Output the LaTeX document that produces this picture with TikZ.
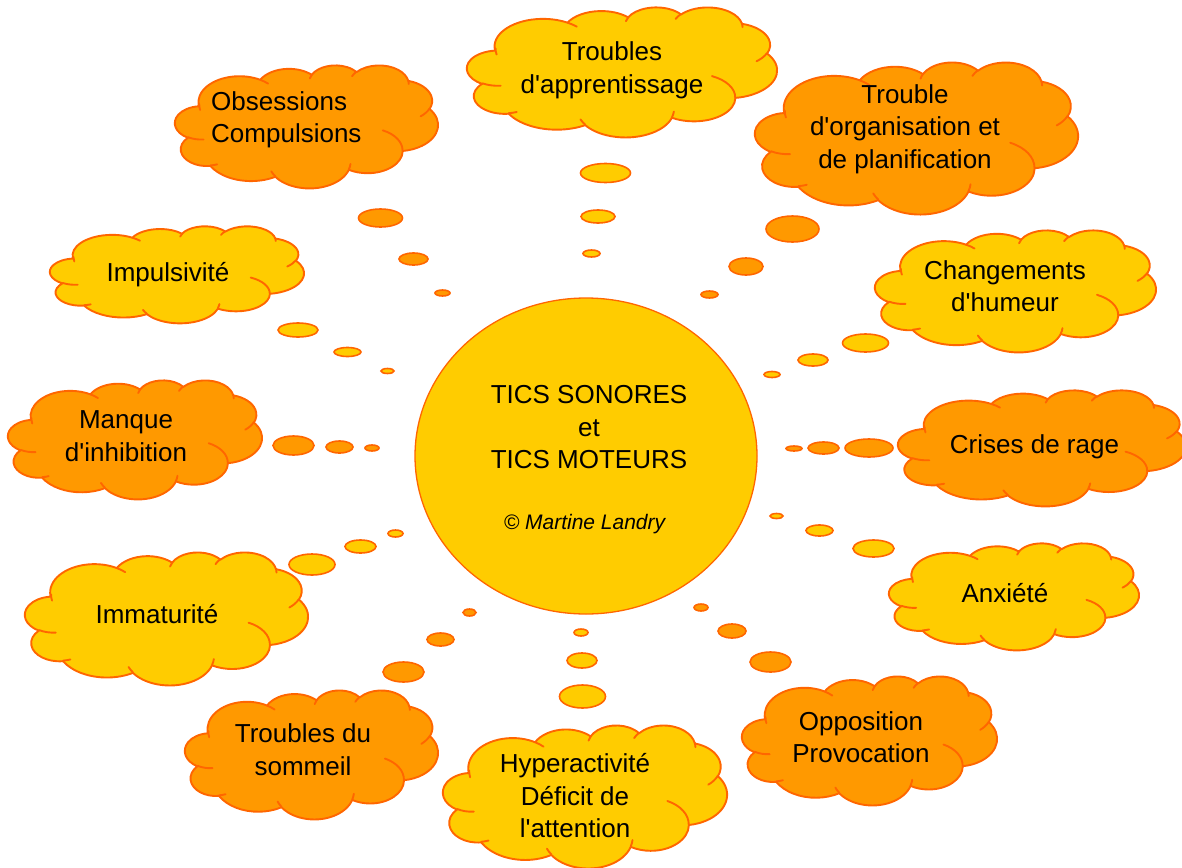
\documentclass[tikz,border=0pt]{standalone}
\usepackage{fontspec}
\newfontfamily\lsans{Liberation Sans}
\definecolor{yel}{HTML}{FFCC00}
\definecolor{org}{HTML}{FF9900}
\definecolor{edge}{HTML}{FF6600}
\def\cSX{1}\def\cSY{1}
\tikzset{
  oarc/.style n args={4}{x radius={#1*\cSX*1pt}, y radius={#2*\cSY*1pt},
     start angle={-atan2(sin(#3)*#1, cos(#3)*#2)},
     delta angle={-mod(atan2(sin(#3+#4)*#1, cos(#3+#4)*#2)-atan2(sin(#3)*#1, cos(#3)*#2)+720,360)}},
  thought/.pic={
    \path[fill=#1, draw=edge, line width=1.9pt, line join=round] ({-177*\cSX},{-72.3*\cSY})
      arc[oarc={67.53}{91.90}{-190.4875}{123.7805}]
      arc[oarc={53.33}{72.67}{-144.1024}{89.9452}]
      arc[oarc={43.65}{59.45}{-145.8079}{99.7230}]
      arc[oarc={48.57}{65.95}{-130.9861}{117.2417}]
      arc[oarc={53.33}{72.73}{-78.7089}{109.0269}]
      arc[oarc={67.75}{92.20}{-46.2673}{130.2690}]
      arc[oarc={57.85}{78.67}{0.6250}{114.0333}]
      arc[oarc={67.52}{92.15}{22.4516}{115.1726}]
      arc[oarc={77.20}{105.43}{66.2426}{75.7110}]
      arc[oarc={43.60}{59.18}{-274.9421}{146.7356}]
      arc[oarc={43.45}{59.45}{-246.8285}{152.5189}]
      -- cycle;
    \path[draw=edge, line width=1.9pt, line cap=round]
      ({-169.07*\cSX},{45.77*\cSY}) arc[oarc={43.45}{59.45}{86.742}{26.4295}]
      ({-146.72*\cSX},{132.99*\cSY}) arc[oarc={43.60}{59.18}{73.6105}{11.4475}]
      ({-51.22*\cSX},{174.90*\cSY}) arc[oarc={67.52}{92.15}{137.6242}{14.0811}]
      ({72.27*\cSX},{131.51*\cSY}) arc[oarc={67.52}{92.15}{6.4533}{15.9984}]
      ({125.29*\cSX},{13.54*\cSY}) arc[oarc={57.85}{78.67}{-70.2924}{70.9174}]
      ({201.98*\cSX},{-62.46*\cSY}) arc[oarc={53.33}{72.73}{30.3180}{27.7515}]
      ({167.24*\cSX},{-161.74*\cSY}) arc[oarc={48.57}{65.95}{-13.7443}{14.8589}]
      ({74.78*\cSX},{-176.48*\cSY}) arc[oarc={48.57}{65.95}{-149.1815}{18.1954}]
      ({5.41*\cSX},{-168.80*\cSY}) arc[oarc={43.65}{59.45}{-163.4943}{17.6864}]
      ({-76.00*\cSX},{-164.08*\cSY}) arc[oarc={67.53}{91.90}{-66.7070}{12.3194}]
      ({-174.73*\cSX},{-58.11*\cSY}) arc[oarc={67.53}{91.90}{163.7479}{17.1695}];
  },
  bubY/.style={fill=yel, draw=edge, line width=1.6pt},
  bubO/.style={fill=org, draw=edge, line width=1.6pt},
  lbl/.style={font=\lsans\fontsize{26}{32.5}\selectfont, align=center, inner sep=0pt, text=black}
}
\newcommand\cloudat[5]{\pgfmathsetmacro\cSX{#3/432}\pgfmathsetmacro\cSY{#4/432}\pic at (#1,#2) {thought=#5};}
\begin{document}
\begin{tikzpicture}[x=1pt, y=-1pt]
\path[fill=white, use as bounding box] (0,0) rectangle (1182,867);

% thought bubbles (yellow)
\foreach \x/\y/\a/\b in {605.5/173/25/9.5, 598/216.5/17/6.5, 591.5/253.5/8.5/3.5,
  298/330/20/7, 347.5/352/13.5/4.5, 387.5/371/6.5/2.5,
  865.5/343/23/9, 813/360/15/6, 772/374.5/8/3,
  312/564.5/23/10.5, 360.5/546.5/15.5/6.5, 395.5/533.5/7.5/3.5,
  873.5/548.5/20.5/8.5, 819.5/530.5/13.5/5.5, 776.5/516/6.5/2.5,
  582.5/696.5/23/11.5, 582/660.5/15/7.5, 581/632.5/7/3.5}
  \draw[bubY] (\x,\y) ellipse [x radius=\a, y radius=\b];
% thought bubbles (orange)
\foreach \x/\y/\a/\b in {380.5/218/22/9, 413.5/259/14.5/6, 442.5/293/7.5/3,
  792.5/229/26.5/13, 746/266.5/17/8.5, 709.5/294.5/8.5/3.5,
  293.5/445.5/20.5/9.5, 339.5/447/13.5/6, 372/448/7/3,
  869/448/24/9, 823.5/448/15.5/6, 794/448.5/8/2.5,
  403.5/672/20.5/10, 440.5/639.5/13.5/6.5, 469.5/612.5/6.5/3.5,
  770.5/662/20.5/10, 732/631/14/7, 701/607.5/7/3.5}
  \draw[bubO] (\x,\y) ellipse [x radius=\a, y radius=\b];

% clouds
\cloudat{622}{72}{310}{130}{yel}
\cloudat{916.5}{138}{323}{152}{org}
\cloudat{306.5}{126.5}{263}{123}{org}
\cloudat{177}{274.5}{254}{97}{yel}
\cloudat{1015.5}{291}{281}{122}{yel}
\cloudat{135}{439.5}{254}{119}{org}
\cloudat{1042}{448}{288}{116}{org}
\cloudat{166.5}{618.5}{283}{133}{yel}
\cloudat{1014}{596.5}{250}{107}{yel}
\cloudat{311.5}{754.5}{253}{129}{org}
\cloudat{585}{796.5}{284}{143}{yel}
\cloudat{869.5}{740.5}{255}{129}{org}

% centre
\draw[fill=yel, draw=edge, line width=1.3pt] (586,456) ellipse [x radius=171, y radius=158];
\node[lbl] (tics) at (589,429.5) {\strut TICS SONORES\\et\\TICS MOTEURS\strut};
\node[font=\lsans\itshape\fontsize{21}{25}\selectfont, inner sep=0pt] (copy) at (584.5,524.5) {\strut © Martine Landry};

% labels
\node[lbl] (appr) at (612,70.5) {\strut Troubles\\d'apprentissage\strut};
\node[lbl] (orga) at (905,129) {\strut Trouble\\d'organisation et\\de planification\strut};
\node[lbl, align=left, anchor=west] (obs) at (211,120) {\strut Obsessions\\Compulsions\strut};
\node[lbl] (impu) at (168,275) {\strut Impulsivité\strut};
\node[lbl] (chan) at (1005,289) {\strut Changements\\d'humeur\strut};
\node[lbl] (manq) at (126,438.5) {\strut Manque\\d'inhibition\strut};
\node[lbl] (rage) at (1034.5,447) {\strut Crises de rage\strut};
\node[lbl] (imma) at (157,617) {\strut Immaturité\strut};
\node[lbl] (anxi) at (1005,596) {\strut Anxiété\strut};
\node[lbl] (somm) at (303,752.5) {\strut Troubles du\\sommeil\strut};
\node[lbl] (hype) at (575,798.5) {\strut Hyperactivité\\Déficit de\\l'attention\strut};
\node[lbl] (oppo) at (861,740) {\strut Opposition\\Provocation\strut};
\end{tikzpicture}
\end{document}
